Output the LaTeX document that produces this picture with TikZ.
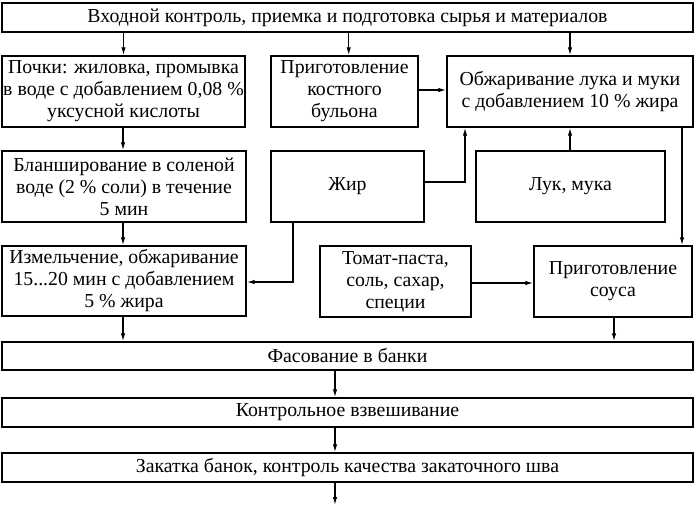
\documentclass[tikz,border=0pt]{standalone}
\usepackage{fontspec}
\setmainfont{Liberation Serif}
\usetikzlibrary{arrows.meta}
\begin{document}
\begin{tikzpicture}[x=1pt,y=-1pt,
  box/.style={draw,line width=1.4pt,rectangle,align=center,inner sep=0pt,
    font=\fontsize{19.8}{22}\selectfont},
  arr/.style={line width=1.3pt,-{Latex[length=8pt,width=4.5pt]}}]
\useasboundingbox (0,0) rectangle (695,507);
\node[box,minimum width=691,minimum height=29] (top) at (347.5,17.5) {Входной контроль, приемка и подготовка сырья и материалов};
\node[box,minimum width=243,minimum height=71] (a) at (123.5,91.5) {Почки: жиловка, промывка\\в воде с добавлением 0,08~\%\\уксусной кислоты};
\node[box,minimum width=147,minimum height=71] (b) at (344.5,91.5) {Приготовление\\костного\\бульона};
\node[box,minimum width=246,minimum height=71] (c) at (570,91.5) {Обжаривание лука и муки\\с добавлением 10~\% жира};
\node[box,minimum width=244,minimum height=71] (bl) at (124,186.5) {Бланширование в соленой\\воде (2~\% соли) в течение\\5 мин};
\node[box,minimum width=153,minimum height=71] (zh) at (347.5,186.5) {Жир};
\node[box,minimum width=189,minimum height=71] (luk) at (570.5,186.5) {Лук, мука};
\node[box,minimum width=244,minimum height=70] (iz) at (124,281) {Измельчение, обжаривание\\15...20 мин с добавлением\\5~\% жира};
\node[box,minimum width=151,minimum height=71] (tom) at (395.5,281.5) {Томат-паста,\\соль, сахар,\\специи};
\node[box,minimum width=158,minimum height=71] (sou) at (613,281.5) {Приготовление\\соуса};
\node[box,minimum width=691,minimum height=28] (fas) at (347.5,356) {Фасование в банки};
\node[box,minimum width=691,minimum height=29] (kon) at (347.5,412.5) {Контрольное взвешивание};
\node[box,minimum width=691,minimum height=29] (zak) at (347.5,467.5) {Закатка банок, контроль качества закаточного шва};
\coordinate (end) at (335,505);
% top to row 2
\draw[arr] (top.south -| a) -- (a.north);
\draw[arr] (top.south -| b.north east) ++(-70,0) coordinate (tb) -- (tb |- b.north);
\draw[arr] (top.south -| c) -- (c.north);
\draw[arr] (b.east |- 0,90) -- (c.west |- 0,90);
\draw[arr] (a.south -| 123,0) -- (bl.north -| 123,0);
\draw[arr] (bl.south -| 123,0) -- (iz.north -| 123,0);
\draw[arr] (zh.east |- 0,182) -| (c.south -| 465,0);
\draw[arr] (luk.north -| c) -- (c.south);
\draw[arr] (c.south -| 682,0) -- (sou.north -| 682,0);
\draw[arr] (zh.south -| 293,0) |- (iz.east |- 0,282);
\draw[arr] (tom.east |- 0,283) -- (sou.west |- 0,283);
\draw[arr] (iz.south -| 123,0) -- (fas.north -| 123,0);
\draw[arr] (sou.south -| 614,0) -- (fas.north -| 614,0);
\draw[arr] (fas.south -| 335,0) -- (kon.north -| 335,0);
\draw[arr] (kon.south -| 335,0) -- (zak.north -| 335,0);
\draw[arr] (zak.south -| end) -- (end);
\end{tikzpicture}
\end{document}
